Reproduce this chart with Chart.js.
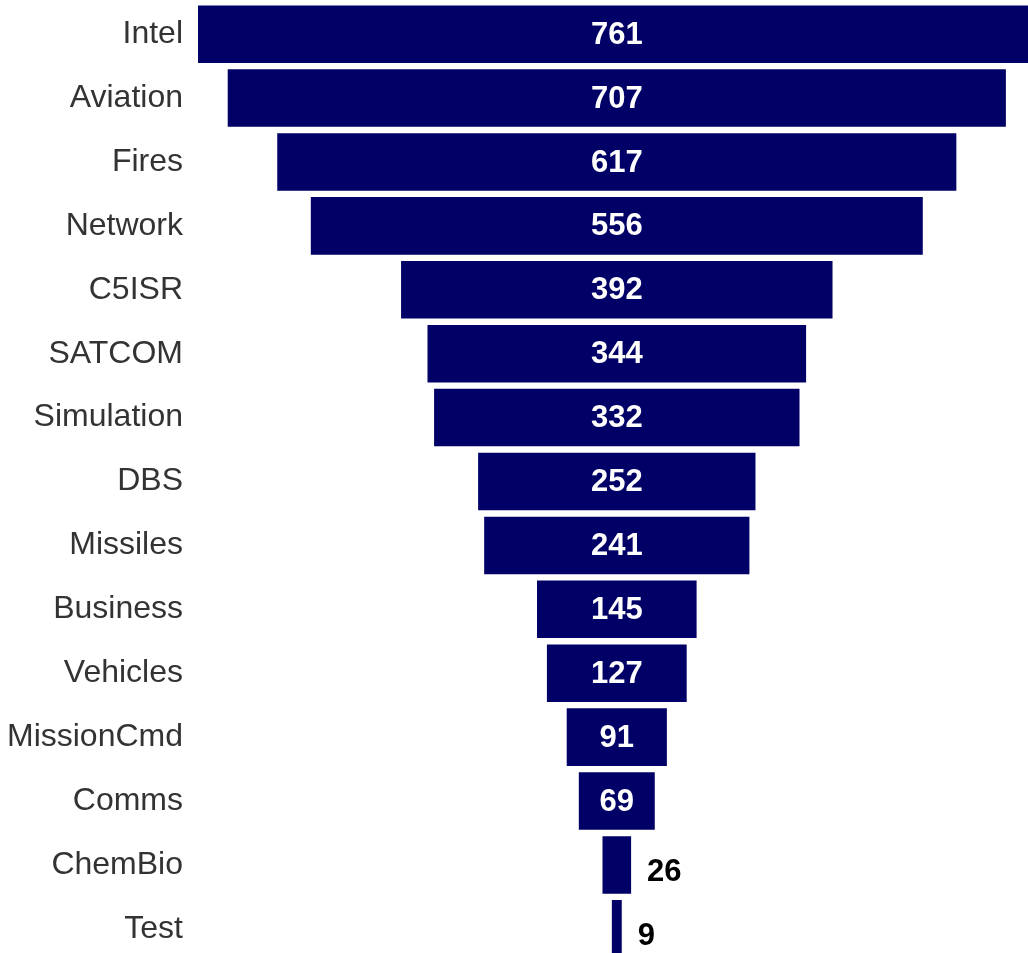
<!DOCTYPE html>
<html>
<head>
<meta charset="utf-8">
<script src="https://cdn.jsdelivr.net/npm/chart.js@4.4.1/dist/chart.umd.min.js"></script>
<style>
  html, body { margin: 0; padding: 0; background: #fff; overflow: hidden; }
  #wrap { position: absolute; left: 0; top: -32px; width: 1028px; height: 1027px; }
</style>
</head>
<body>
<div id="wrap"><canvas id="funnel"></canvas></div>
<script>
// DATA
const categories = ["Intel", "Aviation", "Fires", "Network", "C5ISR", "SATCOM", "Simulation", "DBS",
    "Missiles", "Business", "Vehicles", "MissionCmd", "Comms", "ChemBio", "Test"];
const counts = [761, 707, 617, 556, 392, 344, 332, 252, 241, 145, 127, 91, 69, 26, 9];

const FONT = "Arial, 'Liberation Sans', sans-serif";

// bars centred on zero -> funnel shape
const spans = counts.map(v => [-v / 2, v / 2]);

// value labels: inside (white) when they fit, else outside right (black)
const valueLabels = {
    id: "valueLabels",
    afterDatasetsDraw(chart) {
        const ctx = chart.ctx;
        const meta = chart.getDatasetMeta(0);
        ctx.save();
        ctx.font = "bold 31px " + FONT;
        ctx.textBaseline = "middle";
        meta.data.forEach((bar, i) => {
            const txt = String(counts[i]);
            const w = ctx.measureText(txt).width;
            const left = Math.min(bar.x, bar.base);
            const right = Math.max(bar.x, bar.base);
            if (w + 10 < right - left) {
                ctx.fillStyle = "#ffffff";
                ctx.textAlign = "center";
                ctx.fillText(txt, (left + right) / 2, bar.y + 1);
            } else {
                ctx.fillStyle = "#000000";
                ctx.textAlign = "left";
                ctx.fillText(txt, right + 16, bar.y + 8);
            }
        });
        ctx.restore();
    }
};

new Chart(document.getElementById("funnel"), {
    type: "bar",
    data: {
        labels: categories,
        datasets: [{
            data: spans,
            backgroundColor: "#000066",
            borderWidth: 0,
            categoryPercentage: 0.9,
            barPercentage: 1
        }]
    },
    options: {
        indexAxis: "y",
        responsive: true,
        maintainAspectRatio: false,
        animation: false,
        layout: { padding: 0 },
        plugins: { legend: { display: false }, tooltip: { enabled: false } },
        scales: {
            x: { display: false, min: -380.5, max: 373.6 },
            y: {
                grid: { display: false, drawTicks: false },
                border: { display: false },
                ticks: { color: "#333333", padding: 15, font: { family: FONT, size: 32 } },
                afterFit(scale) { scale.width = 198; }
            }
        }
    },
    plugins: [valueLabels]
});
</script>
</body>
</html>
